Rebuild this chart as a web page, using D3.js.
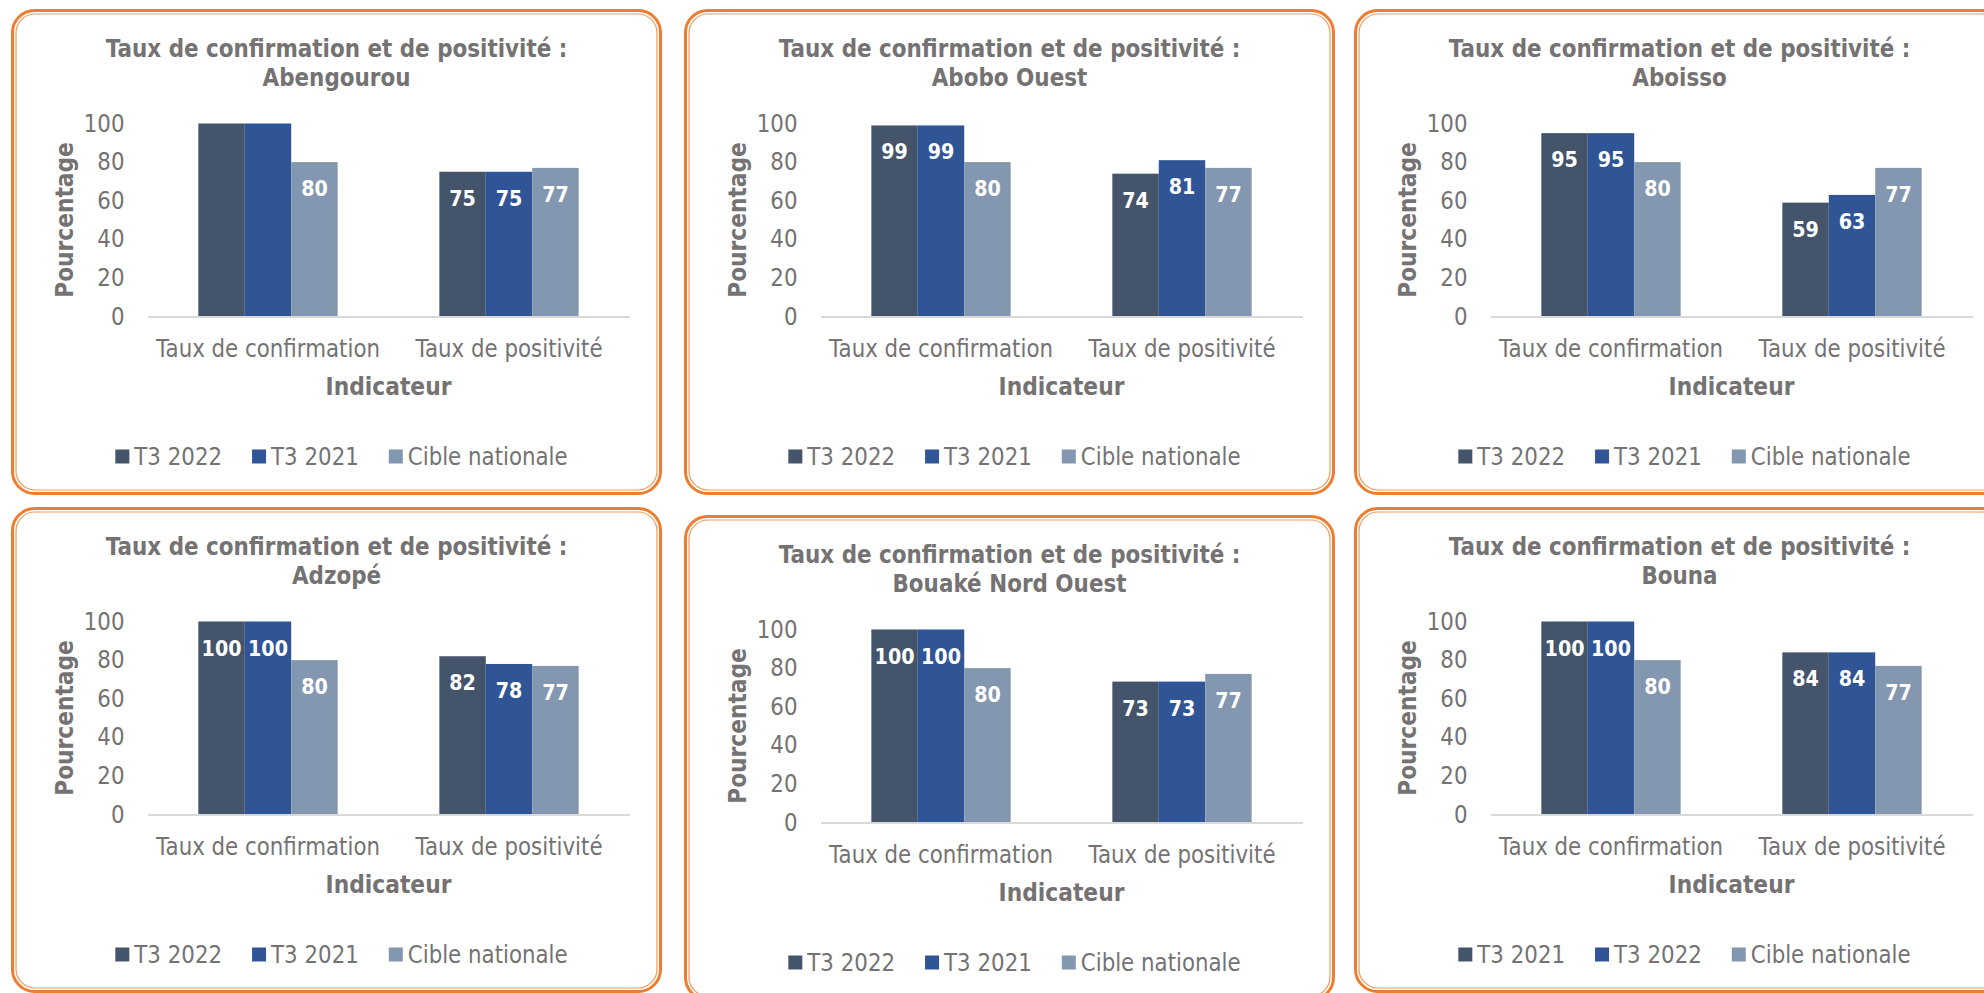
<!DOCTYPE html>
<html>
<head>
<meta charset="utf-8">
<script src="https://cdn.jsdelivr.net/npm/d3@7"></script>
<style>
  html, body { margin: 0; padding: 0; background: #ffffff; }
  svg { display: block; }
  text { font-family: "DejaVu Sans", Verdana, sans-serif; fill: #747272; }
</style>
</head>
<body>
<svg id="chart" width="1984" height="993"></svg>
<script>
// ---- Data -------------------------------------------------------------
const districts = ["Abengourou", "Abobo Ouest", "Aboisso", "Adzopé", "Bouaké Nord Ouest", "Bouna"];
const categories = ["Taux de confirmation", "Taux de positivité"];

// values per district, in legend order (series 1, series 2, cible nationale)
const confirmation = [
  [100, 100, 80],
  [99, 99, 80],
  [95, 95, 80],
  [100, 100, 80],
  [100, 100, 80],
  [100, 100, 80]
];
const positivite = [
  [75, 75, 77],
  [74, 81, 77],
  [59, 63, 77],
  [82, 78, 77],
  [73, 73, 77],
  [84, 84, 77]
];
const legendLabels = [
  ["T3 2022", "T3 2021", "Cible nationale"],
  ["T3 2022", "T3 2021", "Cible nationale"],
  ["T3 2022", "T3 2021", "Cible nationale"],
  ["T3 2022", "T3 2021", "Cible nationale"],
  ["T3 2022", "T3 2021", "Cible nationale"],
  ["T3 2021", "T3 2022", "Cible nationale"]
];
const yTicks = [0, 20, 40, 60, 80, 100];
// bars drawn without a value label: [district, category, series index]
const hiddenLabels = [
  ["Abengourou", "Taux de confirmation", 0],
  ["Abengourou", "Taux de confirmation", 1]
];

// ---- Layout & style ---------------------------------------------------
const colors = ["#44546A", "#2F5597", "#8497B0"];
const PANEL_W = 648, PANEL_H = 483;
const panelOrigins = [[12.5, 10.5], [685.5, 10.5], [1355.5, 10.5], [12.5, 508.5], [685.5, 516.5], [1355.5, 508.5]];
const SX = 0.89;              // horizontal text compression
const GAP_WIDTH = 2.19;       // gap between groups, as a multiple of bar width

const svg = d3.select("#chart");

function addText(sel, x, y, str, size, weight, anchor, extra, sx) {
  const k = sx || SX;
  return sel.append("text")
    .attr("transform", `translate(${x},${y})${extra || ""} scale(${k},1)`)
    .attr("text-anchor", anchor || "start")
    .style("font-size", size + "px")
    .style("font-weight", weight || "normal")
    .text(str);
}

const x = d3.scaleBand().domain(categories).range([135, 617]).padding(0);
const barW = x.bandwidth() / (3 + GAP_WIDTH);
const xs = d3.scaleBand().domain([0, 1, 2]).range([0, 3 * barW]);
const y = d3.scaleLinear().domain([0, 100]).range([306, 113]);

districts.forEach((name, i) => {
  const [ox, oy] = panelOrigins[i];
  const g = svg.append("g").attr("transform", `translate(${ox},${oy})`);

  // double orange frame
  g.append("rect")
    .attr("x", 0).attr("y", 0).attr("width", PANEL_W).attr("height", PANEL_H)
    .attr("rx", 22).attr("ry", 22)
    .attr("fill", "#ffffff").attr("stroke", "#ED7D31").attr("stroke-width", 3);
  g.append("rect")
    .attr("x", 3.5).attr("y", 3.5).attr("width", PANEL_W - 7).attr("height", PANEL_H - 7)
    .attr("rx", 19).attr("ry", 19)
    .attr("fill", "none").attr("stroke", "#F19A5E").attr("stroke-width", 1.2);

  // title
  addText(g, PANEL_W / 2, 46.5, "Taux de confirmation et de positivité :", 25, "bold", "middle", "", 0.86);
  addText(g, PANEL_W / 2, 75.5, name, 25, "bold", "middle", "", 0.86);

  // y axis
  const yAxis = g.append("g").attr("transform", `translate(${x.range()[0]},0)`)
    .call(d3.axisLeft(y).tickValues(yTicks).tickSize(0).tickPadding(0));
  yAxis.select(".domain").remove();
  yAxis.selectAll("text")
    .attr("x", -23 / SX)
    .attr("transform", `scale(${SX},1)`)
    .style("font-size", "24px")
    .style("font-family", "\"DejaVu Sans\", Verdana, sans-serif")
    .attr("fill", "#747272");

  // y axis title
  addText(g, 60, (y.range()[0] + y.range()[1]) / 2, "Pourcentage", 25, "bold", "middle", " rotate(-90)", 0.87);

  // bars
  const data = [confirmation[i], positivite[i]];
  const groups = g.selectAll(".grp").data(categories).join("g")
    .attr("class", "grp")
    .attr("transform", c => `translate(${x(c) + (x.bandwidth() - 3 * barW) / 2},0)`);

  groups.each(function (cat, ci) {
    const grp = d3.select(this);
    const vals = data[ci];
    grp.selectAll("rect").data(vals).join("rect")
      .attr("x", (d, si) => xs(si))
      .attr("y", d => y(d))
      .attr("width", xs.bandwidth())
      .attr("height", d => y(0) - y(d))
      .attr("fill", (d, si) => colors[si]);

    vals.forEach((v, si) => {
      const hidden = hiddenLabels.some(h => h[0] === name && h[1] === cat && h[2] === si);
      if (hidden) return;
      addText(grp, xs(si) + xs.bandwidth() / 2, y(v) + 34, String(v), 21.5, "bold", "middle")
        .style("fill", "#ffffff");
    });
  });

  // x axis
  const xAxis = g.append("g").attr("transform", `translate(0,${y(0)})`)
    .call(d3.axisBottom(x).tickSize(0).tickSizeOuter(0).tickPadding(23.5));
  xAxis.select(".domain").attr("stroke", "#D9D9D9").attr("stroke-width", 2);
  xAxis.selectAll("text")
    .attr("transform", `scale(${SX},1)`)
    .style("font-size", "24px")
    .style("font-family", "\"DejaVu Sans\", Verdana, sans-serif")
    .attr("fill", "#747272");

  // x axis title
  addText(g, (x.range()[0] + x.range()[1]) / 2, 384, "Indicateur", 24.5, "bold", "middle");

  // legend
  const leg = g.append("g");
  const items = legendLabels[i].map((lab, si) => {
    const t = addText(leg, 0, 454, lab, 24, "normal", "start");
    return { t, w: t.node().getComputedTextLength() * SX, si };
  });
  const total = d3.sum(items, d => 14 + 5 + d.w) + 30 * (items.length - 1);
  let cx = 329 - total / 2;
  items.forEach(it => {
    leg.append("rect").attr("x", cx).attr("y", 439).attr("width", 14).attr("height", 14)
      .attr("fill", colors[it.si]);
    it.t.attr("transform", `translate(${cx + 19},454) scale(${SX},1)`);
    cx += 14 + 5 + it.w + 30;
  });
});
</script>
</body>
</html>
